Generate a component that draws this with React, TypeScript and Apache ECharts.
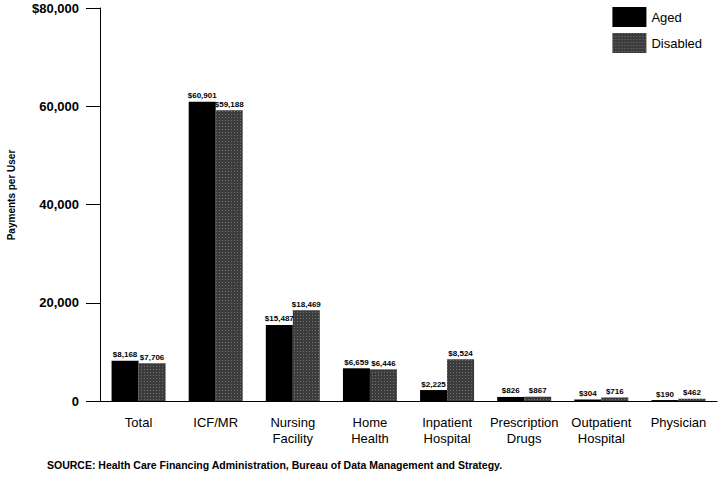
import React, { useEffect, useRef } from "react";
import * as echarts from "echarts";

const categories = [
  "Total",
  "ICF/MR",
  "Nursing\nFacility",
  "Home\nHealth",
  "Inpatient\nHospital",
  "Prescription\nDrugs",
  "Outpatient\nHospital",
  "Physician",
];
const aged = [8168, 60901, 15487, 6659, 2225, 826, 304, 190];
const disabled = [7706, 59188, 18469, 6446, 8524, 867, 716, 462];
const yTicks = [0, 20000, 40000, 60000, 80000];

const fmt = (v: number) => v.toLocaleString("en-US");

export default function App() {
  const ref = useRef<HTMLDivElement>(null);
  useEffect(() => {
    if (!ref.current) return;
    const chart = echarts.init(ref.current, undefined, { renderer: "svg" });
    const font = "'Liberation Sans', Arial, sans-serif";
    const label = {
      show: true,
      position: "top" as const,
      distance: 2,
      fontSize: 8,
      fontWeight: "bold" as const,
      color: "#000",
      fontFamily: font,
      formatter: (p: any) => "$" + fmt(p.value),
    };
    const decal = {
      symbol: "rect",
      symbolSize: 1,
      color: "rgba(160,160,160,0.55)",
      dashArrayX: [1, 2],
      dashArrayY: [1, 2],
      rotation: 0,
    };
    chart.setOption({
      animation: false,
      backgroundColor: "#fff",
      textStyle: { fontFamily: font },
      grid: { left: 100, right: 6, top: 8, bottom: 76, containLabel: false },
      legend: {
        right: 16,
        top: 2,
        orient: "vertical",
        itemWidth: 34,
        itemHeight: 20,
        itemGap: 6,
        icon: "rect",
        textStyle: { fontSize: 13, color: "#000", fontFamily: font },
        data: ["Aged", "Disabled"],
      },
      xAxis: {
        type: "category",
        data: categories,
        axisLine: { lineStyle: { color: "#000", width: 1 } },
        axisTick: { alignWithLabel: true, length: 8, lineStyle: { color: "#000" } },
        axisLabel: {
          color: "#000",
          fontSize: 13,
          lineHeight: 16,
          margin: 13,
          fontFamily: font,
          interval: 0,
        },
      },
      yAxis: {
        type: "value",
        min: 0,
        max: 80000,
        interval: 20000,
        axisLine: { show: true, lineStyle: { color: "#000" } },
        axisTick: { show: true, inside: false, length: 14, lineStyle: { color: "#000" } },
        splitLine: { show: false },
        axisLabel: {
          color: "#000",
          fontSize: 13,
          fontWeight: "bold",
          margin: 21,
          fontFamily: font,
          formatter: (v: number) =>
            v === yTicks[yTicks.length - 1] ? "$" + fmt(v) : fmt(v),
        },
      },
      series: [
        {
          name: "Aged",
          type: "bar",
          data: aged,
          barWidth: 27,
          barGap: "0%",
          itemStyle: { color: "#000" },
          label,
        },
        {
          name: "Disabled",
          type: "bar",
          data: disabled,
          barWidth: 27,
          barGap: "0%",
          itemStyle: { color: "#3c3c3c", decal },
          label,
        },
      ],
      graphic: [
        {
          type: "text",
          x: 11,
          y: 195,
          rotation: Math.PI / 2,
          style: {
            text: "Payments per User",
            fontSize: 10,
            fontWeight: "bold",
            fill: "#000",
            fontFamily: font,
            align: "center",
            verticalAlign: "middle",
          },
        },
        {
          type: "text",
          left: 47,
          top: 459,
          style: {
            text: "SOURCE: Health Care Financing Administration, Bureau of Data Management and Strategy.",
            fontSize: 10.5,
            fontWeight: "bold",
            fill: "#000",
            fontFamily: font,
          },
        },
      ],
    });
    return () => chart.dispose();
  }, []);
  return <div ref={ref} style={{ width: 723, height: 477, position: "absolute", left: 0, top: 0 }} />;
}
